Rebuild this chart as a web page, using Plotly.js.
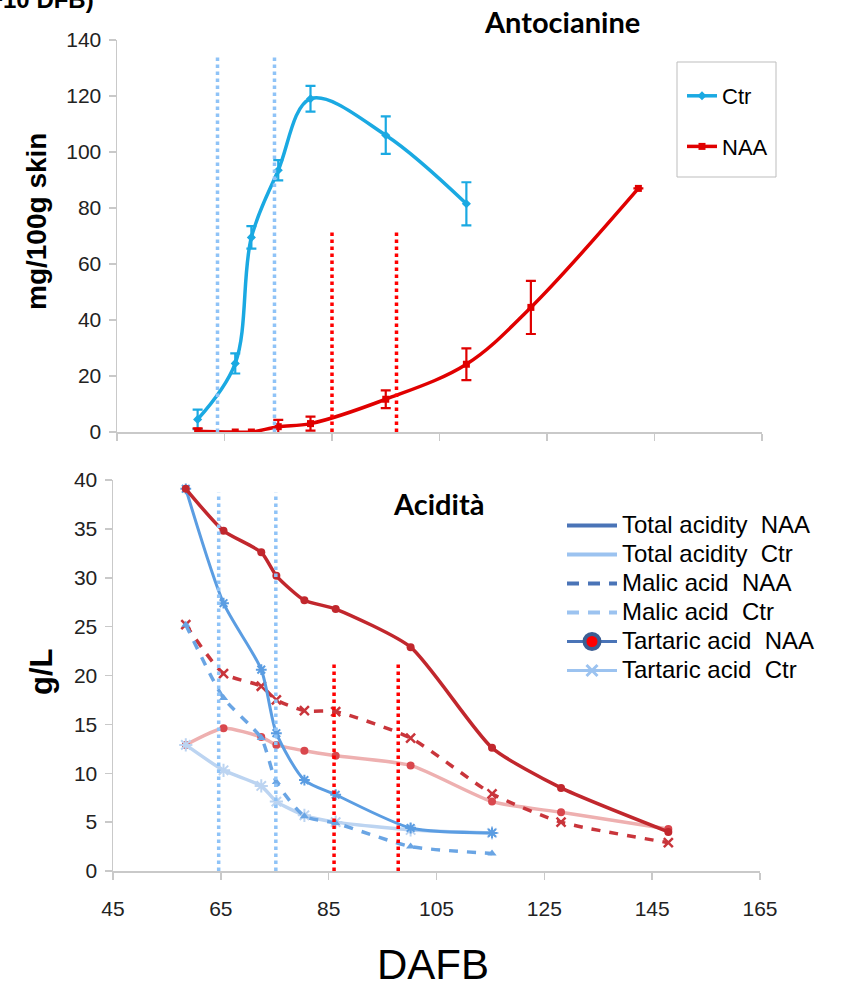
<!DOCTYPE html>
<html>
<head>
<meta charset="utf-8">
<script src="https://cdn.plot.ly/plotly-3.0.1.min.js"></script>
<style>html,body{margin:0;padding:0;background:#fff;}#chart{width:841px;height:987px;}</style>
</head>
<body>
<div id="chart"></div>
<script>
// ---------- Top panel: Antocianine (mg/100g skin) ----------
const ctrDays = [60, 67, 70, 75, 81, 95, 110];
const ctrAnto = [4.5, 24.5, 69.5, 93.5, 119, 106, 81.5];
const ctrAntoErr = [3.5, 3.6, 4, 3.6, 4.6, 6.7, 7.7];

const naaDays = [60, 67, 70, 75, 81, 95, 110, 122, 142];
const naaAnto = [0.3, 0, 0, 1.9, 3, 11.7, 24.2, 44.5, 87];
const naaAntoErr = [1, 0, 0, 2.4, 2.5, 3.2, 5.7, 9.5, 0];

// ---------- Bottom panel: Acidità (g/L) ----------
const acidDaysNAA = [58.5, 65.5, 72.5, 75.3, 80.5, 86.3, 100.2, 115.3, 128.1, 148];
const acidDaysCtr = [58.5, 65.5, 72.5, 75.3, 80.5, 86.3, 100.2, 115.3];

const totalNAA = [39.1, 34.8, 32.6, 30.2, 27.7, 26.8, 22.9, 12.6, 8.5, 4.0];
const totalCtr = [39.1, 27.4, 20.6, 14.1, 9.3, 7.8, 4.4, 3.9];
const malicNAA = [25.2, 20.2, 18.9, 17.5, 16.4, 16.3, 13.6, 7.9, 5.0, 2.9];
const malicCtr = [25.2, 17.7, 13.6, 9.1, 5.6, 4.9, 2.5, 1.8];
const tartNAA = [12.9, 14.6, 13.7, 12.9, 12.3, 11.8, 10.8, 7.1, 6.0, 4.3];
const tartCtr = [12.9, 10.3, 8.7, 7.1, 5.7, 5.0, 4.2, 3.9];

// reference (veraison) lines, in DAFB, per panel
const ctrMarksTop = [63.7, 74.3];
const naaMarksTop = [85.0, 97.0];
const ctrMarksBottom = [64.6, 75.2];
const naaMarksBottom = [86.0, 97.9];

const legendLabels = ['Total acidity\u00a0\u00a0NAA', 'Total acidity\u00a0\u00a0Ctr', 'Malic acid\u00a0\u00a0NAA',
  'Malic acid\u00a0\u00a0Ctr', 'Tartaric acid\u00a0\u00a0NAA', 'Tartaric acid\u00a0\u00a0Ctr'];
const big = s => '<span style="font-size:24px">' + s + '</span>';

const W = 841, H = 987;
const px = v => v / W;
const py = v => 1 - v / H;

const CTR = '#1aa9e2', NAA = '#e00000';
const dRed = '#c1272d', pink = '#eeb0b0', mBlue = '#5b9de2', lBlue = '#bcd4f1';

const traces = [
  {x: ctrDays, y: ctrAnto, name: 'Ctr', type: 'scatter', mode: 'lines+markers', xaxis: 'x', yaxis: 'y',
   line: {color: CTR, width: 3.5, shape: 'spline', smoothing: 1}, marker: {symbol: 'diamond', size: 7, color: CTR},
   error_y: {type: 'data', array: ctrAntoErr, color: CTR, thickness: 2.2, width: 5}, legend: 'legend2', legendgroup: 'a'},
  {x: naaDays, y: naaAnto, name: 'NAA', type: 'scatter', mode: 'lines+markers', xaxis: 'x', yaxis: 'y',
   line: {color: NAA, width: 3.5, shape: 'spline', smoothing: 1}, marker: {symbol: 'square', size: 7, color: NAA},
   error_y: {type: 'data', array: naaAntoErr, color: NAA, thickness: 2.2, width: 5}, legend: 'legend2', legendgroup: 'b'},

  {x: acidDaysNAA, y: tartNAA, type: 'scatter', mode: 'lines+markers', xaxis: 'x2', yaxis: 'y2', showlegend: false,
   line: {color: pink, width: 3.5, shape: 'spline', smoothing: 0.6}, marker: {symbol: 'circle', size: 8, color: '#d9474d'}},
  {x: acidDaysCtr, y: tartCtr, type: 'scatter', mode: 'lines+markers', xaxis: 'x2', yaxis: 'y2', showlegend: false,
   line: {color: lBlue, width: 3.5, shape: 'spline', smoothing: 0.6}, marker: {symbol: 'asterisk-open', size: 11, line: {color: '#86b4ea', width: 2}}},
  {x: acidDaysNAA, y: malicNAA, type: 'scatter', mode: 'lines+markers', xaxis: 'x2', yaxis: 'y2', showlegend: false,
   line: {color: '#c9353b', width: 3.5, dash: '9px,9px', shape: 'spline', smoothing: 0.6}, marker: {symbol: 'x-thin-open', size: 9, line: {color: '#c9353b', width: 2.5}}},
  {x: acidDaysCtr, y: malicCtr, type: 'scatter', mode: 'lines+markers', xaxis: 'x2', yaxis: 'y2', showlegend: false,
   line: {color: '#6aa5e4', width: 3.5, dash: '9px,9px', shape: 'spline', smoothing: 0.6}, marker: {symbol: 'triangle-up', size: 8, color: '#6aa5e4'}},
  {x: acidDaysCtr, y: totalCtr, type: 'scatter', mode: 'lines+markers', xaxis: 'x2', yaxis: 'y2', showlegend: false,
   line: {color: mBlue, width: 3, shape: 'spline', smoothing: 0.7}, marker: {symbol: 'asterisk-open', size: 9, line: {color: mBlue, width: 2}}},
  {x: acidDaysNAA, y: totalNAA, type: 'scatter', mode: 'lines+markers', xaxis: 'x2', yaxis: 'y2', showlegend: false,
   line: {color: dRed, width: 3.5, shape: 'spline', smoothing: 0.6}, marker: {symbol: 'circle', size: 8, color: dRed}},

  // legend-only entries for bottom panel
  {x: [null], y: [null], name: big(legendLabels[0]), type: 'scatter', mode: 'lines', xaxis: 'x2', yaxis: 'y2', line: {color: '#4a74b7', width: 4}},
  {x: [null], y: [null], name: big(legendLabels[1]), type: 'scatter', mode: 'lines', xaxis: 'x2', yaxis: 'y2', line: {color: '#9cc3f0', width: 4}},
  {x: [null], y: [null], name: big(legendLabels[2]), type: 'scatter', mode: 'lines', xaxis: 'x2', yaxis: 'y2', line: {color: '#4a74b7', width: 4, dash: '12px,9px'}},
  {x: [null], y: [null], name: big(legendLabels[3]), type: 'scatter', mode: 'lines', xaxis: 'x2', yaxis: 'y2', line: {color: '#9cc3f0', width: 4, dash: '12px,9px'}},
  {x: [null], y: [null], name: big(legendLabels[4]), type: 'scatter', mode: 'lines+markers', xaxis: 'x2', yaxis: 'y2', line: {color: '#4a74b7', width: 3},
   marker: {symbol: 'circle', size: 15, color: '#ff0000', line: {color: '#3d5e93', width: 4}}},
  {x: [null], y: [null], name: big(legendLabels[5]), type: 'scatter', mode: 'lines+markers', xaxis: 'x2', yaxis: 'y2', line: {color: '#9cc3f0', width: 3},
   marker: {symbol: 'x-thin-open', size: 11, line: {color: '#9cc3f0', width: 3}}}
];

const shapes = [
  // frame of the top legend
  {type: 'rect', xref: 'paper', yref: 'paper', x0: px(677), x1: px(776), y0: py(177), y1: py(62),
   line: {color: '#bdbdbd', width: 1}, fillcolor: 'rgba(0,0,0,0)'}
];
function vlines(xs, yTop, color, xref, yref) {
  xs.forEach(v => shapes.push({type: 'line', xref: xref, yref: yref, x0: v, x1: v, y0: 0, y1: yTop,
    line: {color: color, width: 3.5, dash: 'dot'}}));
}
vlines(ctrMarksTop, 135, '#8fc3f7', 'x', 'y');
vlines(naaMarksTop, 71.5, '#ff0000', 'x', 'y');
vlines(ctrMarksBottom, 38.7, '#8fc3f7', 'x2', 'y2');
vlines(naaMarksBottom, 21.3, '#ff0000', 'x2', 'y2');

const tickFont = {family: 'Liberation Sans, Arial, sans-serif', size: 21, color: '#222'};
const axisCommon = {showgrid: false, zeroline: false, showline: true, linecolor: '#c9c9c9', linewidth: 1.5,
  ticks: 'outside', ticklen: 7, tickcolor: '#c9c9c9', tickwidth: 1.5, tickfont: tickFont, fixedrange: true};

const layout = {
  width: W, height: H,
  margin: {l: 0, r: 0, t: 0, b: 0, autoexpand: false},
  paper_bgcolor: '#fff', plot_bgcolor: '#fff',
  font: {family: 'Liberation Sans, Arial, sans-serif', color: '#111'},
  xaxis: Object.assign({}, axisCommon, {domain: [px(117), px(762)], range: [45, 165], tick0: 45, dtick: 20,
    showticklabels: false, anchor: 'y'}),
  yaxis: Object.assign({}, axisCommon, {domain: [py(432), py(40)], range: [0, 140], dtick: 20, anchor: 'x',
    ticklabelstandoff: 3}),
  xaxis2: Object.assign({}, axisCommon, {domain: [px(113), px(760)], range: [45, 165], tick0: 45, dtick: 20,
    anchor: 'y2', ticklabelstandoff: 11}),
  yaxis2: Object.assign({}, axisCommon, {domain: [py(871), py(480)], range: [0, 40], dtick: 5, anchor: 'x2',
    ticklabelstandoff: 3}),
  showlegend: true,
  legend: {x: px(562), y: py(506), xanchor: 'left', yanchor: 'top', bgcolor: 'rgba(0,0,0,0)',
    font: {family: 'Liberation Sans, Arial, sans-serif', size: 20, color: '#000'}, itemwidth: 50, tracegroupgap: 0},
  legend2: {x: px(682), y: py(75), xanchor: 'left', yanchor: 'top', bgcolor: 'rgba(0,0,0,0)', borderwidth: 0,
    font: {family: 'Liberation Sans, Arial, sans-serif', size: 22, color: '#000'}, tracegroupgap: 19, itemwidth: 30},
  shapes: shapes,
  annotations: [
    {text: '<b>Antocianine</b>', xref: 'paper', yref: 'paper', x: px(562), y: py(22), xanchor: 'center', yanchor: 'middle',
     showarrow: false, font: {family: 'Lato, Open Sans, sans-serif', size: 29, color: '#000'}},
    {text: '<b>Acidità</b>', xref: 'paper', yref: 'paper', x: px(438), y: py(503), xanchor: 'center', yanchor: 'middle',
     showarrow: false, font: {family: 'Lato, Open Sans, sans-serif', size: 29, color: '#000'}},
    {text: 'DAFB', xref: 'paper', yref: 'paper', x: px(433), y: py(964), xanchor: 'center', yanchor: 'middle',
     showarrow: false, font: {family: 'Liberation Sans, Arial, sans-serif', size: 42, color: '#000'}},
    {text: '<b>mg/100g skin</b>', xref: 'paper', yref: 'paper', x: px(37), y: py(222), xanchor: 'center', yanchor: 'middle',
     textangle: -90, showarrow: false, font: {family: 'Liberation Sans, Arial, sans-serif', size: 28, color: '#000'}},
    {text: '<b>g/L</b>', xref: 'paper', yref: 'paper', x: px(41), y: py(672), xanchor: 'center', yanchor: 'middle',
     textangle: -90, showarrow: false, font: {family: 'Liberation Sans, Arial, sans-serif', size: 31, color: '#000'}},
    {text: '<b>+10 DFB)</b>', xref: 'paper', yref: 'paper', x: px(96), y: py(15), xanchor: 'right', yanchor: 'bottom',
     showarrow: false, font: {family: 'Liberation Sans, Arial, sans-serif', size: 24, color: '#000'}}
  ]
};

Plotly.newPlot('chart', traces, layout, {staticPlot: true, displayModeBar: false});
</script>
</body>
</html>
